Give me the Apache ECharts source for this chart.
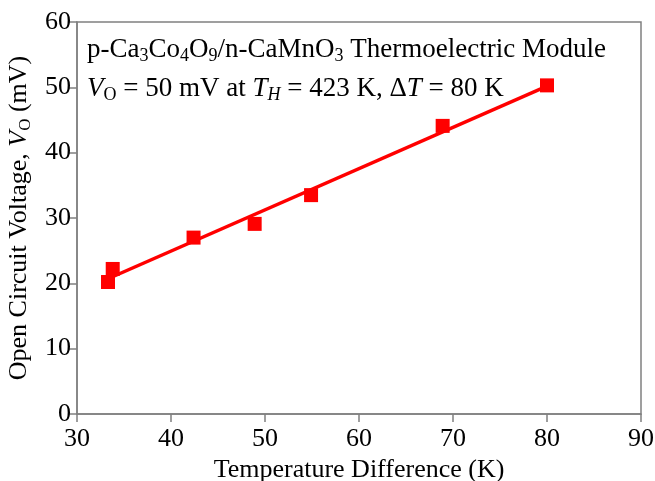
<!DOCTYPE html>
<html>
<head>
    <meta charset="utf-8">
    <script src="https://cdn.jsdelivr.net/npm/echarts@6/dist/echarts.min.js"></script>
</head>
<body style="margin:0">
<div id="main" style="width:655px;height:481px"></div>
<script type="text/javascript">
    // measured points: temperature difference (K) vs open circuit voltage (mV)
    var deltaT = [33.3, 33.8, 42.4, 48.9, 54.9, 68.9, 80.0];
    var voltage = [20.2, 22.2, 27.0, 29.1, 33.5, 44.1, 50.3];
    // linear fit line, end points
    var fitX = [33.3, 80.0];
    var fitY = [20.7, 50.2];

    var serif = '"Liberation Serif", "DejaVu Serif", serif';
    var gray = '#808080';

    var myChart = echarts.init(document.getElementById('main'));

    function richSet(size) {
        var sub = Math.round(size * 0.66);
        return {
            n: { fontFamily: serif, fontSize: size, color: '#000', lineHeight: size + 4 },
            i: { fontFamily: serif, fontSize: size, color: '#000', fontStyle: 'italic', lineHeight: size + 4 },
            s: { fontFamily: serif, fontSize: sub, color: '#000', lineHeight: sub, padding: [13, 0, 0, 0] },
            si: { fontFamily: serif, fontSize: sub, color: '#000', fontStyle: 'italic', lineHeight: sub, padding: [13, 0, 0, 0] }
        };
    }

    option = {
        animation: false,
        grid: {
            left: 77, right: 14, top: 22, bottom: 67,
            containLabel: false,
            outerBoundsMode: 'none',
            show: true, borderColor: gray, borderWidth: 1.5
        },
        xAxis: {
            type: 'value',
            min: 30, max: 90, interval: 10,
            name: 'Temperature Difference (K)',
            nameLocation: 'middle',
            nameGap: 38,
            nameTextStyle: { fontFamily: serif, fontSize: 26, color: '#000' },
            axisLine: { show: true, lineStyle: { color: gray, width: 1.5 } },
            axisTick: { show: true, length: 8, lineStyle: { color: gray, width: 1.5 } },
            axisLabel: { fontFamily: serif, fontSize: 26, color: '#000', margin: 12 },
            splitLine: { show: false }
        },
        yAxis: {
            type: 'value',
            min: 0, max: 60, interval: 10,
            name: '{n|Open Circuit Voltage, }{i|V}{s|O}{n| (mV)}',
            nameLocation: 'middle',
            nameGap: 35,
            nameTextStyle: { rich: richSet(26) },
            axisLine: { show: true, lineStyle: { color: gray, width: 1.5 } },
            axisTick: { show: true, length: 8, lineStyle: { color: gray, width: 1.5 } },
            axisLabel: { fontFamily: serif, fontSize: 26, color: '#000', margin: 6 },
            splitLine: { show: false }
        },
        graphic: [
            {
                type: 'text', left: 87, top: 34,
                style: {
                    text: '{n|p-Ca}{s|3}{n|Co}{s|4}{n|O}{s|9}{n|/n-CaMnO}{s|3}{n| Thermoelectric Module}',
                    rich: richSet(27)
                }
            },
            {
                type: 'text', left: 87, top: 73,
                style: {
                    text: '{i|V}{s|O}{n| = 50 mV at }{i|T}{si|H}{n| = 423 K, \u0394}{i|T}{n| = 80 K}',
                    rich: richSet(27)
                }
            }
        ],
        series: [
            {
                type: 'line',
                data: fitX.map(function (x, k) { return [x, fitY[k]]; }),
                showSymbol: false,
                lineStyle: { color: '#ff0000', width: 3.5 },
                z: 2
            },
            {
                type: 'scatter',
                data: deltaT.map(function (x, k) { return [x, voltage[k]]; }),
                symbol: 'rect',
                symbolSize: 14,
                itemStyle: { color: '#ff0000', opacity: 1 },
                z: 3
            }
        ]
    };

    myChart.setOption(option);
</script>
</body>
</html>
